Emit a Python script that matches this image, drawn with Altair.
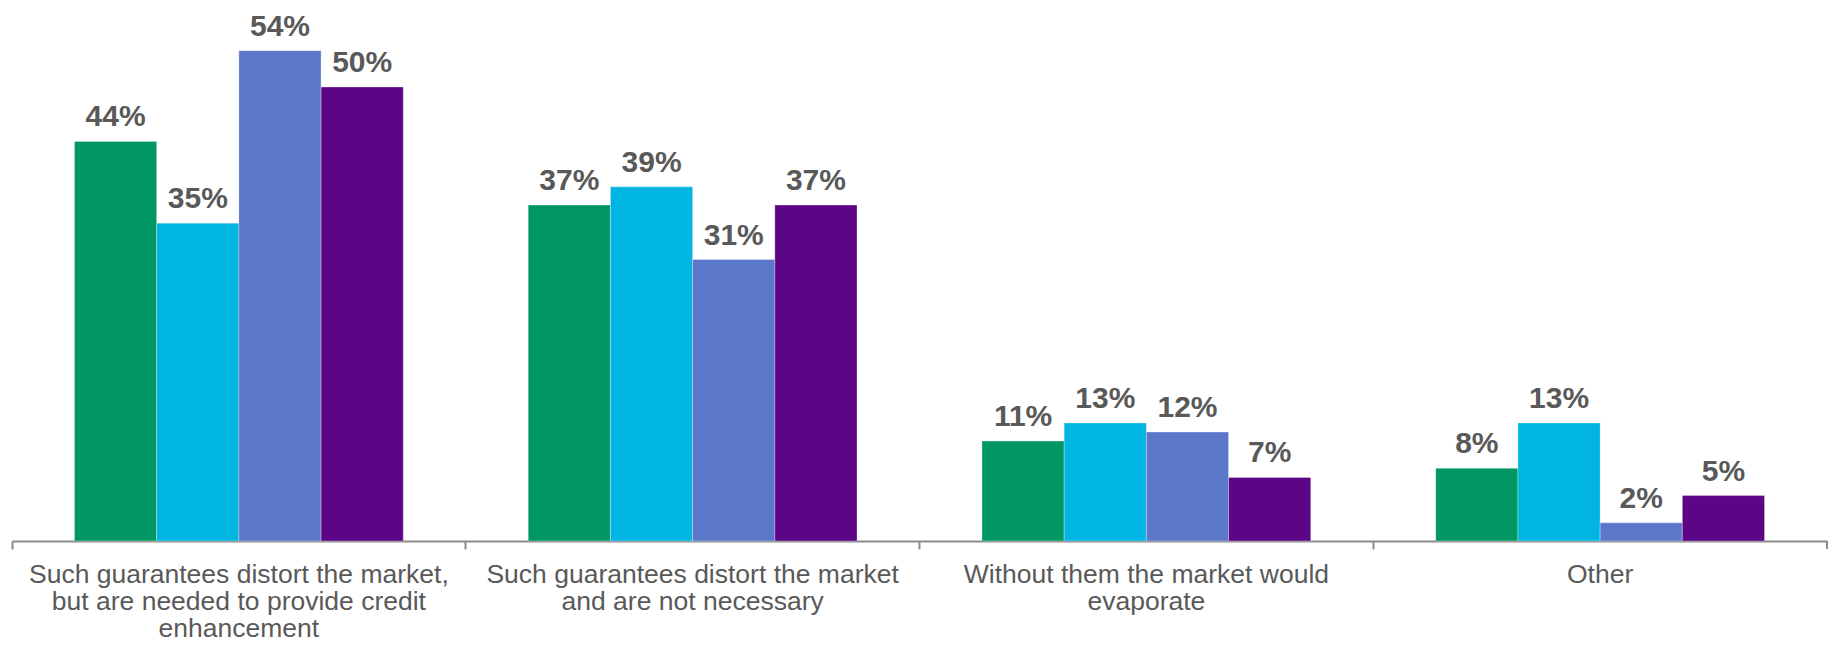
import altair as alt
import pandas as pd

# Survey answers (x-axis groups) and the four respondent series shown per group
categories = [
    "Such guarantees distort the market, but are needed to provide credit enhancement",
    "Such guarantees distort the market and are not necessary",
    "Without them the market would evaporate",
    "Other",
]
label_lines = [
    ["Such guarantees distort the market,", "but are needed to provide credit", "enhancement"],
    ["Such guarantees distort the market", "and are not necessary"],
    ["Without them the market would", "evaporate"],
    ["Other"],
]
series = ["A", "B", "C", "D"]
colors = ["#009763", "#00B5E2", "#5B77C9", "#5C0687"]

values_a = [44, 37, 11, 8]
values_b = [35, 39, 13, 13]
values_c = [54, 31, 12, 2]
values_d = [50, 37, 7, 5]

rows = []
for s, vals in zip(series, [values_a, values_b, values_c, values_d]):
    for c, v in zip(categories, vals):
        rows.append({"category": c, "series": s, "value": v})
df = pd.DataFrame(rows)

W, H = 1815, 541
TEXT = "#595959"
FONT = "Liberation Sans"

# Multi-line axis labels
expr = "''"
for c, lines in reversed(list(zip(categories, label_lines))):
    arr = "[" + ",".join("'" + l.replace("'", "\\'") + "'" for l in lines) + "]"
    expr = f"datum.value == '{c}' ? {arr} : ({expr})"

x = alt.X(
    "category:N",
    sort=categories,
    title=None,
    scale=alt.Scale(paddingInner=0, paddingOuter=0),
    axis=alt.Axis(
        labelAngle=0,
        labelExpr=expr,
        labelFont=FONT,
        labelFontSize=26.5,
        labelColor=TEXT,
        labelLineHeight=27,
        labelPadding=12,
        labelLimit=600,
        labelBaseline="top",
        domainColor="#8c8c8c",
        domainWidth=2,
        tickColor="#8c8c8c",
        tickWidth=2,
        tickSize=8,
        bandPosition=0,
    ),
)
xo = alt.XOffset("series:N", sort=series, scale=alt.Scale(paddingInner=0, paddingOuter=0.76))
y = alt.Y("value:Q", scale=alt.Scale(domain=[0, 59.58], nice=False, zero=True), axis=None)

base = alt.Chart(df)

bars = base.mark_bar(stroke="#ffffff", strokeWidth=0.6, strokeOpacity=0.5).encode(
    x=x,
    xOffset=xo,
    y=y,
    color=alt.Color("series:N", sort=series, scale=alt.Scale(domain=series, range=colors), legend=None),
)

labels = base.transform_calculate(label="datum.value + '%'").mark_text(
    font=FONT, fontSize=30, fontWeight="bold", color=TEXT, baseline="alphabetic", dy=-15
).encode(x=x, xOffset=xo, y=y, text="label:N")

end_tick = alt.Chart(pd.DataFrame({"k": [0]})).mark_rule(color="#8c8c8c", strokeWidth=2).encode(
    x=alt.value(W), y=alt.value(H), y2=alt.value(H + 8)
)

chart = (
    alt.layer(bars, labels, end_tick)
    .properties(
        width=W,
        height=H,
        autosize=alt.AutoSizeParams(type="none"),
        padding={"left": 12, "right": 4, "top": 0, "bottom": 106},
        background="#ffffff",
    )
    .configure_view(stroke=None)
)

chart.save("out.html", embed_options={"renderer": "svg", "actions": False})
